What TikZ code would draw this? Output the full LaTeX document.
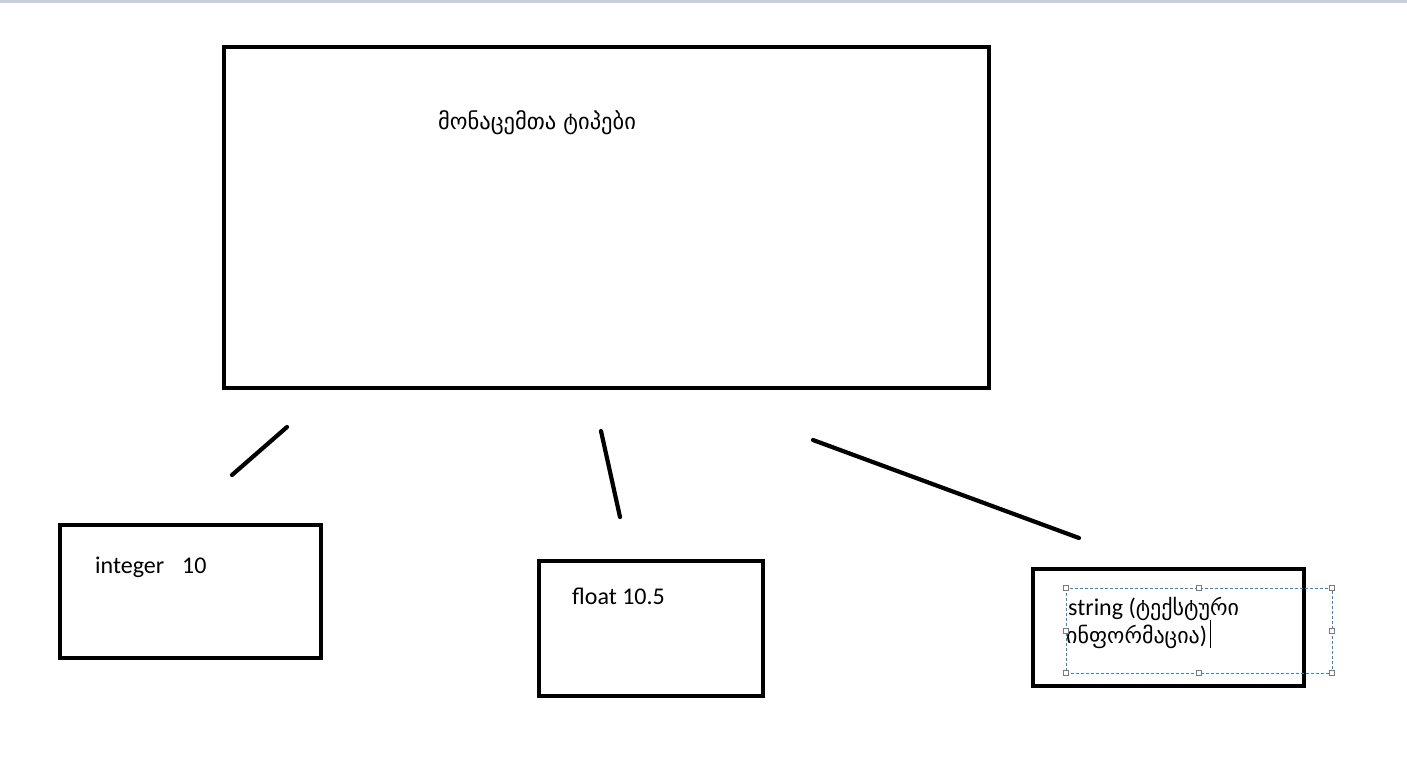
\documentclass[tikz,border=0pt]{standalone}
\usepackage{fontspec}
\setmainfont{Carlito}
\newfontfamily\geo{DejaVu Sans}
\definecolor{band}{HTML}{C5CFE0}
\definecolor{selblue}{HTML}{2E86D1}
\definecolor{handle}{HTML}{7A7A7A}
\newcommand{\geosz}{\geo\fontsize{22}{24}\selectfont}
\begin{document}
\begin{tikzpicture}[x=1pt,y=-1pt,
  box/.style={draw=black,line width=4.2pt},
  seg/.style={draw=black,line width=4.2pt,line cap=round},
  lbl/.style={anchor=base west,inner sep=0pt,font=\fontsize{24}{28}\selectfont},
  geolbl/.style={anchor=base west,inner sep=0pt,font=\geo\fontsize{22.5}{26}\selectfont},
  hnd/.style={draw=handle,fill=white,line width=0.8pt,minimum size=5pt,inner sep=0pt}]
\useasboundingbox (0,0) rectangle (1407,758);
\fill[white] (0,0) rectangle (1407,758);
\fill[band] (0,0) rectangle (1407,3);
% main box
\node[box,minimum width=765pt,minimum height=341pt,inner sep=0pt] (main) at (606.5,217.5) {};
\node[geolbl] (title) at (438,129) {მონაცემთა ტიპები};
% child boxes
\node[box,minimum width=261pt,minimum height=133pt,inner sep=0pt] (int) at (190.5,591.5) {};
\node[box,minimum width=224pt,minimum height=135pt,inner sep=0pt] (flt) at (651,628.5) {};
\node[draw=black,line width=4.8pt,minimum width=271pt,minimum height=117pt,inner sep=0pt] (str) at (1168.5,627.5) {};
\node[lbl] (intl) at (95,573) {integer\hspace{0.75em}10};
\node[lbl] (fltl) at (572,604) {float 10.5};
\node[lbl] (strl1) at (1068,615) {string ({\geosz ტექსტური}};
\node[lbl] (strl2) at (1066,643) {{\geosz ინფორმაცია})};
% connectors (free segments)
\coordinate (a1) at (287,427); \coordinate (a2) at (232,475);
\coordinate (b1) at (601,431); \coordinate (b2) at (620,517);
\coordinate (c1) at (813,440); \coordinate (c2) at (1079,538);
\draw[seg] (a1) -- (a2);
\draw[seg] (b1) -- (b2);
\draw[seg] (c1) -- (c2);
% selection frame
\coordinate (s1) at (1066,588); \coordinate (s2) at (1332,673);
\draw[selblue,line width=0.9pt,dash pattern=on 3pt off 2pt] (s1) rectangle (s2);
\foreach \p/\q in {1066/588,1199/588,1332/588,1066/631,1332/631,1066/673,1199/673,1332/673}
  \node[hnd] at (\p,\q) {};
% caret
\coordinate (k1) at (strl2.base east);
\draw[black,line width=1.2pt] ([xshift=3pt,yshift=-5pt]k1) -- ([xshift=3pt,yshift=23pt]k1);
\end{tikzpicture}
\end{document}
